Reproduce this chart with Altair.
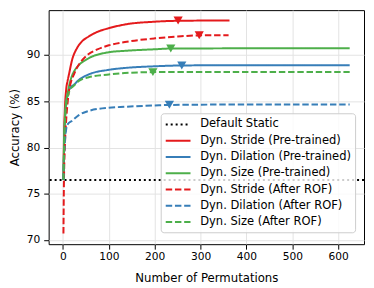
import altair as alt
import pandas as pd

series_names = [
    "Default Static",
    "Dyn. Stride (Pre-trained)",
    "Dyn. Dilation (Pre-trained)",
    "Dyn. Size (Pre-trained)",
    "Dyn. Stride (After ROF)",
    "Dyn. Dilation (After ROF)",
    "Dyn. Size (After ROF)",
]
series_colors = ["#000000", "#e41a1c", "#377eb8", "#4daf4a", "#e41a1c", "#377eb8", "#4daf4a"]
series_dashes = [[2, 3], [1, 0], [1, 0], [1, 0], [6.5, 2.8], [6.5, 2.8], [6.5, 2.8]]

default_static = 76.48

stride_pt_x = [1, 2, 4, 7, 10, 13, 20, 30, 40, 56, 75, 100, 135, 200, 251, 300, 363]
stride_pt_y = [76.5, 80.5, 84.0, 86.3, 87.2, 87.9, 89.5, 90.7, 91.4, 92.0, 92.5, 92.9, 93.3, 93.6, 93.7, 93.72, 93.73]

dilation_pt_x = [1, 2, 4, 7, 10, 15, 24, 34.5, 56, 100, 135, 200, 259, 400, 625]
dilation_pt_y = [76.5, 79.0, 82.5, 84.8, 85.7, 86.4, 86.8, 87.3, 87.9, 88.4, 88.6, 88.78, 88.87, 88.9, 88.9]

size_pt_x = [1, 2, 4, 7, 10, 13, 20, 25, 34.5, 56, 100, 135, 200, 235, 400, 625]
size_pt_y = [76.5, 79.5, 83.0, 85.0, 85.8, 86.6, 87.8, 88.3, 88.9, 89.65, 90.3, 90.45, 90.62, 90.7, 90.72, 90.72]

stride_rof_x = [1, 2, 4, 7, 10, 13, 18, 24, 30, 38, 56, 75, 100, 135, 200, 250, 297, 361]
stride_rof_y = [70.7, 76.0, 80.0, 83.0, 84.8, 86.1, 87.2, 87.9, 88.6, 89.2, 90.1, 90.6, 91.05, 91.4, 91.8, 92.0, 92.12, 92.14]

dilation_rof_x = [1, 2, 4, 7, 10, 20, 34.5, 56, 100, 135, 200, 232, 400, 625]
dilation_rof_y = [76.5, 78.5, 80.5, 82.0, 82.5, 82.9, 83.5, 83.95, 84.3, 84.4, 84.55, 84.6, 84.65, 84.65]

size_rof_x = [1, 2, 4, 7, 10, 15, 24, 34.5, 56, 100, 135, 196, 300, 625]
size_rof_y = [76.5, 79.0, 82.5, 84.6, 85.5, 86.2, 86.7, 87.2, 87.6, 87.9, 88.05, 88.15, 88.17, 88.17]

marker_x = [251, 259, 235, 297, 232, 196]
marker_y = [93.73, 88.87, 90.7, 92.14, 84.62, 88.15]
marker_colors = ["#e41a1c", "#377eb8", "#4daf4a", "#e41a1c", "#377eb8", "#4daf4a"]

curves = [
    (series_names[1], stride_pt_x, stride_pt_y),
    (series_names[2], dilation_pt_x, dilation_pt_y),
    (series_names[3], size_pt_x, size_pt_y),
    (series_names[4], stride_rof_x, stride_rof_y),
    (series_names[5], dilation_rof_x, dilation_rof_y),
    (series_names[6], size_rof_x, size_rof_y),
]
rows = []
for name, xs, ys in curves:
    for i, (xv, yv) in enumerate(zip(xs, ys)):
        rows.append({"series": name, "x": xv, "y": yv, "i": i})
df_lines = pd.DataFrame(rows)
df_static = pd.DataFrame({"series": [series_names[0]], "y": [default_static]})
df_marks = pd.DataFrame({"x": marker_x, "y": marker_y, "c": marker_colors})

FONT = "DejaVu Sans"

legend = alt.Legend(
    title=None,
    orient="none",
    legendX=113,
    legendY=104,
    symbolType="M-1,0L3,0",
    symbolSize=156,
    symbolStrokeWidth=2,
    labelFontSize=11.6,
    labelFont=FONT,
    labelColor="black",
    labelOffset=21,
    rowPadding=2.4,
    padding=3.8,
    fillColor="rgba(255,255,255,0.8)",
    strokeColor="#cccccc",
    cornerRadius=3,
    labelLimit=300,
)

color = alt.Color("series:N", scale=alt.Scale(domain=series_names, range=series_colors), legend=legend)
dash = alt.StrokeDash("series:N", scale=alt.Scale(domain=series_names, range=series_dashes), legend=legend)

x_enc = alt.X(
    "x:Q",
    scale=alt.Scale(domain=[-31.25, 656.25], nice=False, zero=False),
    axis=alt.Axis(values=[0, 100, 200, 300, 400, 500, 600], format="d",
                  title="Number of Permutations", labelPadding=2, titlePadding=12),
)
y_enc = alt.Y(
    "y:Q",
    scale=alt.Scale(domain=[69.55, 94.85], nice=False, zero=False),
    axis=alt.Axis(values=[70, 75, 80, 85, 90], format="d",
                  title="Accuracy (%)", labelPadding=4, titlePadding=6),
)

static_layer = alt.Chart(df_static).mark_rule(strokeWidth=2).encode(
    y=y_enc, color=color, strokeDash=dash
)
line_layer = alt.Chart(df_lines).mark_line(strokeWidth=2, interpolate="monotone").encode(
    x=x_enc, y=y_enc, color=color, strokeDash=dash, order="i:Q"
)
marker_layer = alt.Chart(df_marks).mark_point(
    shape="triangle-down", filled=True, size=86, opacity=1
).encode(x=x_enc, y=y_enc, color=alt.Color("c:N", scale=None))

chart = (
    alt.layer(static_layer, line_layer, marker_layer)
    .properties(
        width=318,
        height=236,
        autosize=alt.AutoSizeParams(type="none"),
        padding={"left": 41, "top": 1, "right": 2, "bottom": 40},
    )
    .configure_view(stroke="black", strokeWidth=1)
    .configure_axis(
        labelFont=FONT, titleFont=FONT, labelFontSize=10.7, titleFontSize=11.8,
        labelColor="black", titleColor="black", titleFontWeight="normal",
        tickColor="black", tickSize=5, domain=False,
        gridColor="#e3e3e3", gridWidth=1,
    )
)

chart.save("out.html", embed_options={"renderer": "svg", "actions": False})
